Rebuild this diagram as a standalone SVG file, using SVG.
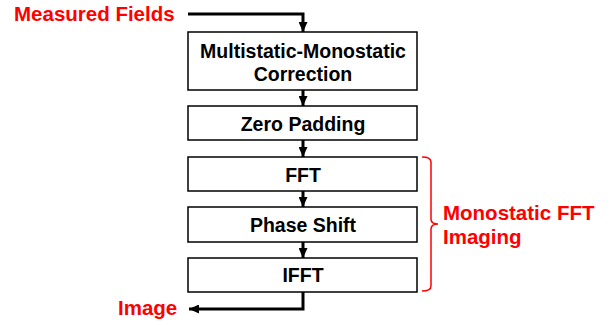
<svg xmlns="http://www.w3.org/2000/svg" width="610" height="325" viewBox="0 0 610 325">
<defs>
<marker id="ah" viewBox="0 0 10 9" refX="10" refY="4.5" markerWidth="10" markerHeight="9" markerUnits="userSpaceOnUse" orient="auto">
<path d="M0,0 L10,4.5 L0,9 Z" fill="#000"/>
</marker>
</defs>
<style>
.box{fill:#fff;stroke:#000;stroke-width:1.5}
.t{font-family:"Liberation Sans",Arial,sans-serif;font-weight:bold;font-size:19.5px;fill:#000;text-anchor:middle}
.r{font-family:"Liberation Sans",Arial,sans-serif;font-weight:bold;font-size:20.5px;fill:#f00}
.c{fill:none;stroke:#000;stroke-width:3;marker-end:url(#ah)}
.brace{fill:none;stroke:#f00;stroke-width:1.5}
</style>
<rect width="610" height="325" fill="#fff"/>
<g id="connectors">
<path class="c" d="M188,14 H303 V32"/>
<path class="c" d="M303,90 V106"/>
<path class="c" d="M303,140 V157"/>
<path class="c" d="M303,191 V207"/>
<path class="c" d="M303,242 V258"/>
<path class="c" d="M303,292 V309 H189"/>
</g>
<g id="n_measured"><text class="r" x="14" y="21">Measured Fields</text></g>
<g id="n_correction">
<rect class="box" x="188" y="32" width="229" height="58"/>
<text class="t" x="303" y="57.5">Multistatic-Monostatic</text>
<text class="t" x="303" y="81">Correction</text>
</g>
<g id="n_zeropad">
<rect class="box" x="188" y="106" width="229" height="34"/>
<text class="t" x="303" y="130.5">Zero Padding</text>
</g>
<g id="n_fft">
<rect class="box" x="188" y="157" width="229" height="34"/>
<text class="t" x="303" y="181.5">FFT</text>
</g>
<g id="n_phase">
<rect class="box" x="188" y="207" width="229" height="35"/>
<text class="t" x="303" y="232">Phase Shift</text>
</g>
<g id="n_ifft">
<rect class="box" x="188" y="258" width="229" height="34"/>
<text class="t" x="303" y="281.5">IFFT</text>
</g>
<g id="n_image"><text class="r" x="118" y="315">Image</text></g>
<g id="n_group">
<path class="brace" d="M422,157 Q431,157 431,162 V219 Q431,224 438,224 Q431,224 431,229 V286 Q431,291 422,291"/>
<text class="r" x="443" y="219.5">Monostatic FFT</text>
<text class="r" x="443" y="243.5">Imaging</text>
</g>
</svg>
